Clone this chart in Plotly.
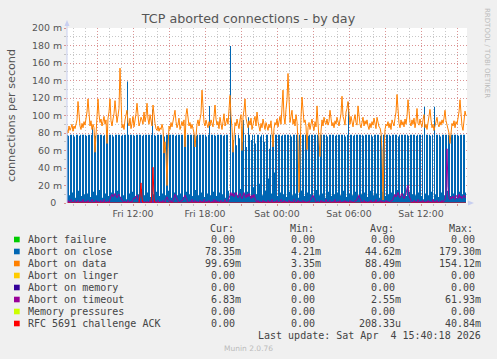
import plotly.graph_objects as go
import pandas as pd

# ---------------- data (values in milli-connections per second) ----------------
start_time = "2026-04-03 06:30:00"
n_points = 400
times = pd.date_range(start_time, periods=n_points, freq="5min")

abort_on_close = [
    78, 77, 9, 78, 78, 12, 78, 76, 6, 78, 78, 14, 77, 78, 8, 78, 78, 10, 78, 77,
    11, 78, 78, 7, 78, 87, 13, 78, 77, 9, 78, 78, 15, 78, 78, 6, 77, 78, 11, 78,
    78, 8, 78, 78, 12, 78, 76, 10, 78, 78, 14, 78, 78, 7, 77, 78, 9, 78, 78, 4.21,
    139, 78, 11, 78, 78, 13, 78, 77, 8, 78, 78, 10, 78, 78, 16, 77, 78, 9, 78, 78,
    12, 78, 78, 7, 78, 107, 10, 78, 77, 13, 78, 78, 8, 78, 78, 11, 78, 76, 9, 78,
    78, 14, 78, 78, 6, 78, 78, 12, 77, 78, 9, 78, 78, 11, 78, 78, 7, 78, 77, 13,
    78, 78, 10, 78, 78, 8, 78, 78, 15, 77, 78, 9, 78, 78, 12, 78, 78, 7, 78, 76,
    11, 78, 111, 9, 78, 78, 13, 78, 77, 8, 78, 78, 12, 78, 78, 10, 77, 78, 6, 78,
    78, 14, 4.21, 179.3, 10, 78, 72, 12, 78, 66, 9, 78, 74, 16, 78, 70, 95, 11, 78, 64,
    13, 98, 78, 8, 72, 78, 18, 78, 68, 10, 78, 78, 22, 76, 78, 9, 78, 70, 14, 78,
    78, 28, 62, 78, 11, 78, 74, 35, 78, 78, 8, 78, 78, 12, 77, 78, 10, 78, 78, 7,
    78, 78, 13, 78, 76, 9, 78, 78, 11, 78, 78, 6, 78, 77, 14, 78, 78, 8, 78, 78,
    12, 77, 78, 10, 78, 78, 7, 78, 78, 15, 78, 77, 9, 78, 78, 11, 78, 78, 6, 78,
    76, 13, 78, 78, 8, 78, 78, 10, 77, 78, 12, 78, 78, 9, 78, 78, 14, 78, 76, 7,
    78, 115, 11, 78, 78, 9, 77, 78, 13, 78, 78, 8, 78, 78, 10, 78, 77, 12, 78, 78,
    7, 78, 78, 14, 78, 76, 9, 78, 78, 11, 78, 78, 6, 77, 78, 13, 78, 78, 8, 78,
    78, 10, 78, 77, 12, 78, 78, 9, 78, 78, 15, 76, 78, 7, 78, 78, 11, 78, 78, 8,
    78, 77, 13, 78, 78, 10, 78, 78, 9, 77, 78, 12, 78, 78, 8, 78, 4.21, 110, 11, 78,
    78, 9, 78, 77, 13, 78, 4.21, 110, 10, 78, 78, 7, 78, 76, 12, 78, 78, 9, 78, 78,
    14, 78, 77, 8, 78, 78, 11, 78, 78, 6, 78, 77, 13, 78, 78, 10, 78, 78, 12, 78.35,
]

abort_on_data = [
    84, 80, 88, 83, 86, 90, 82, 88, 85, 92, 95, 116, 97, 88, 84, 91, 86, 93, 89, 97,
    104, 119, 96, 88, 94, 84, 90, 86, 58, 78, 85, 119, 101, 92, 96, 88, 93, 99, 90, 95,
    68, 97, 104, 119, 94, 88, 96, 102, 117, 99, 92, 100, 108, 154.12, 112, 86, 90, 84, 95, 103,
    106, 92, 88, 97, 85, 91, 99, 87, 94, 102, 114, 96, 88, 92, 98, 95, 90, 104, 93, 99,
    114, 96, 90, 101, 94, 88, 112, 97, 91, 85, 83, 88, 82, 86, 84, 90, 85, 57, 70, 55,
    20, 62, 88, 84, 92, 87, 95, 99, 106, 93, 86, 90, 97, 84, 89, 93, 88, 95, 64, 101,
    108, 94, 88, 92, 85, 90, 84, 80, 64, 82, 90, 95, 88, 96, 102, 129, 104, 92, 88, 95,
    90, 86, 93, 88, 95, 91, 87, 99, 112, 96, 89, 93, 85, 98, 90, 84, 93, 102, 88, 94,
    97, 90, 104, 123, 99, 86, 58, 84, 92, 88, 96, 90, 85, 95, 101, 60, 98, 106, 119, 97,
    92, 86, 94, 89, 97, 84, 90, 95, 99, 88, 104, 93, 87, 82, 91, 86, 96, 89, 84, 92,
    88, 83, 90, 86, 94, 81, 64, 85, 92, 89, 96, 87, 92, 99, 90, 105, 129, 98, 90, 107,
    118, 148, 104, 92, 99, 106, 90, 96, 88, 101, 93, 70, 12, 74, 98, 121, 103, 92, 95, 88,
    61, 86, 92, 84, 90, 96, 88, 83, 93, 87, 111, 94, 78, 53, 82, 95, 88, 98, 92, 90,
    96, 89, 93, 106, 97, 88, 92, 86, 94, 90, 98, 93, 88, 95, 102, 122, 99, 95, 89, 104,
    108, 116, 96, 90, 99, 93, 87, 95, 101, 92, 89, 111, 96, 90, 86, 93, 98, 88, 94, 90,
    95, 88, 84, 91, 86, 93, 89, 97, 90, 85, 98, 92, 87, 86, 80, 60, 3.35, 58, 84, 90,
    88, 93, 86, 91, 84, 95, 90, 88, 97, 104, 124, 99, 91, 86, 95, 89, 93, 87, 96, 90,
    99, 118, 101, 92, 88, 95, 90, 97, 86, 93, 108, 91, 89, 96, 90, 87, 95, 101, 86, 90,
    84, 92, 96, 107, 95, 86, 90, 83, 88, 94, 98, 90, 87, 93, 89, 95, 91, 97, 106, 94,
    90, 86, 80, 68, 84, 91, 88, 94, 86, 93, 90, 97, 104, 118, 101, 88, 83, 92, 105, 99.69,
]

abort_on_timeout = [
    1, 3, 0, 2, 4, 1, 0, 2, 3, 1, 0, 3, 1, 0, 2, 1, 4, 0, 1, 2,
    0, 3, 1, 0, 2, 4, 1, 0, 1, 3, 0, 2, 1, 0, 3, 1, 0, 4, 2, 0,
    1, 2, 0, 5, 8, 10, 7, 9, 11, 8, 6, 9, 10, 7, 5, 3, 1, 0, 2, 1,
    0, 3, 1, 0, 2, 1, 4, 6, 5, 7, 9, 4, 2, 0, 1, 3, 0, 2, 1, 0,
    2, 1, 0, 3, 1, 2, 0, 4, 1, 0, 2, 3, 0, 1, 2, 0, 3, 1, 0, 5,
    7, 4, 2, 1, 3, 0, 2, 6, 10, 7, 4, 2, 0, 1, 3, 2, 5, 8, 9, 6,
    3, 1, 0, 2, 1, 4, 0, 1, 3, 0, 2, 1, 0, 3, 1, 2, 0, 4, 1, 0,
    2, 1, 3, 0, 1, 2, 0, 4, 1, 3, 0, 2, 1, 0, 3, 2, 0, 1, 4, 1,
    0, 2, 5, 9, 12, 8, 11, 7, 10, 12, 9, 6, 8, 11, 7, 5, 9, 12, 8, 6,
    10, 7, 11, 8, 5, 9, 6, 10, 4, 2, 1, 3, 0, 2, 1, 0, 3, 1, 2, 0,
    1, 3, 0, 2, 1, 4, 0, 1, 2, 0, 3, 1, 0, 2, 4, 1, 0, 3, 1, 2,
    0, 1, 3, 0, 2, 1, 0, 4, 2, 1, 0, 3, 1, 2, 0, 1, 3, 0, 2, 1,
    0, 2, 1, 3, 5, 7, 9, 6, 3, 1, 0, 2, 1, 0, 3, 1, 2, 0, 1, 4,
    1, 0, 2, 3, 1, 0, 2, 1, 4, 0, 1, 2, 0, 3, 1, 0, 2, 1, 3, 0,
    2, 1, 0, 3, 1, 2, 0, 1, 3, 2, 4, 6, 9, 5, 2, 0, 1, 3, 0, 2,
    1, 0, 2, 1, 3, 0, 1, 2, 0, 4, 1, 0, 2, 1, 3, 0, 2, 1, 0, 3,
    1, 2, 0, 1, 3, 2, 5, 8, 10, 7, 9, 12, 8, 6, 9, 11, 7, 5, 8, 10,
    17, 20, 9, 4, 2, 1, 0, 3, 1, 2, 0, 4, 1, 0, 2, 1, 3, 0, 1, 2,
    0, 3, 1, 2, 0, 1, 4, 0, 2, 1, 3, 0, 1, 2, 0, 3, 1, 2, 4, 12,
    61.93, 18, 6, 4, 7, 5, 8, 6, 4, 9, 7, 5, 10, 6, 8, 5, 7, 9, 6, 6.83,
]

rfc5691_challenge_ack = [
    0, 0, 0, 0, 0, 0, 0, 0, 0, 0, 0, 0, 0, 0, 0, 0, 0, 0, 0, 0,
    0, 0, 0, 0, 0, 0, 0, 0, 0, 0, 0, 0, 0, 0, 0, 0, 0, 0, 0, 0,
    0, 0, 0, 0, 0, 0, 0, 0, 0, 0, 0, 0, 0, 0, 0, 0, 0, 0, 0, 0,
    0, 0, 0, 0, 0, 0, 0, 0, 0, 0, 0, 0, 0, 8, 23, 6, 0, 0, 0, 0,
    0, 0, 0, 0, 0, 12, 40.84, 5, 0, 0, 0, 0, 0, 0, 0, 0, 0, 0, 0, 0,
    0, 0, 0, 0, 0, 0, 0, 0, 0, 0, 0, 0, 0, 0, 0, 0, 0, 0, 0, 0,
    0, 0, 0, 0, 0, 0, 0, 0, 0, 0, 0, 0, 0, 0, 0, 0, 0, 0, 0, 0,
    0, 0, 0, 0, 0, 0, 0, 0, 0, 0, 0, 0, 0, 0, 0, 0, 0, 0, 0, 0,
    0, 0, 0, 0, 0, 0, 0, 0, 0, 0, 0, 0, 0, 0, 0, 0, 0, 0, 0, 0,
    0, 0, 0, 0, 0, 0, 0, 0, 0, 0, 0, 0, 0, 0, 0, 0, 0, 0, 0, 0,
    0, 0, 0, 0, 0, 0, 0, 0, 0, 0, 0, 0, 0, 0, 0, 0, 0, 0, 0, 0,
    0, 0, 0, 0, 0, 0, 0, 0, 0, 0, 0, 0, 0, 0, 0, 0, 0, 0, 0, 0,
    0, 0, 0, 0, 0, 0, 0, 0, 0, 0, 0, 0, 0, 0, 0, 0, 0, 0, 0, 0,
    0, 0, 0, 0, 0, 0, 0, 0, 0, 0, 0, 0, 0, 0, 0, 0, 0, 0, 0, 0,
    0, 0, 0, 0, 0, 0, 0, 0, 0, 0, 0, 0, 0, 0, 0, 0, 0, 0, 0, 0,
    0, 0, 0, 0, 0, 0, 0, 0, 0, 0, 0, 0, 0, 0, 0, 0, 0, 0, 0, 0,
    0, 0, 0, 0, 0, 0, 0, 0, 0, 0, 0, 0, 0, 0, 0, 0, 0, 0, 0, 0,
    0, 0, 0, 0, 0, 0, 0, 0, 0, 0, 0, 0, 0, 0, 0, 0, 0, 0, 0, 0,
    0, 0, 0, 0, 0, 0, 0, 0, 0, 0, 0, 0, 0, 0, 0, 0, 0, 0, 0, 0,
    0, 0, 0, 0, 0, 0, 0, 0, 0, 0, 0, 0, 0, 0, 0, 0, 0, 0, 0, 0,
]

legend_names = ["Abort failure", "Abort on close", "Abort on data", "Abort on linger",
                "Abort on memory", "Abort on timeout", "Memory pressures",
                "RFC 5691 challenge ACK"]
legend_colors = ["#00CC00", "#0066B3", "#FF8000", "#FFCC00",
                 "#330099", "#990099", "#CCFF00", "#FF0000"]
cur_vals = ["0.00", "78.35m", "99.69m", "0.00", "0.00", "6.83m", "0.00", "0.00"]
min_vals = ["0.00", "4.21m", "3.35m", "0.00", "0.00", "0.00", "0.00", "0.00"]
avg_vals = ["0.00", "44.62m", "88.49m", "0.00", "0.00", "2.55m", "0.00", "208.33u"]
max_vals = ["0.00", "179.30m", "154.12m", "0.00", "0.00", "61.93m", "0.00", "40.84m"]

y_tick_vals = [0, 20, 40, 60, 80, 100, 120, 140, 160, 180, 200]
y_tick_text = ["0\u00a0\u00a0", "20 m", "40 m", "60 m", "80 m", "100 m", "120 m",
               "140 m", "160 m", "180 m", "200 m"]
x_tick_times = ["2026-04-03 09:00", "2026-04-03 12:00", "2026-04-03 15:00",
                "2026-04-03 18:00", "2026-04-03 21:00", "2026-04-04 00:00",
                "2026-04-04 03:00", "2026-04-04 06:00", "2026-04-04 09:00",
                "2026-04-04 12:00", "2026-04-04 15:00"]
x_tick_text = ["", "Fri 12:00", "", "Fri 18:00", "", "Sat 00:00", "",
               "Sat 06:00", "", "Sat 12:00", ""]

# ---------------- layout geometry ----------------
W, H = 497, 359
PL, PR, PT, PB = 67, 467, 28, 203  # plot box in pixels


def px(x):
    return (x - PL) / (PR - PL)


def py(y):
    return (PB - y) / (PB - PT)


fig = go.Figure()

fig.add_trace(go.Scatter(x=times, y=abort_on_close, mode="lines", line=dict(width=0, shape="hv"),
                         fill="tozeroy", fillcolor="#0066B3", hoverinfo="skip"))
fig.add_trace(go.Scatter(x=times, y=abort_on_data, mode="lines",
                         line=dict(color="#FF8000", width=1), hoverinfo="skip"))
fig.add_trace(go.Scatter(x=times, y=abort_on_timeout, mode="lines",
                         line=dict(color="#990099", width=1), hoverinfo="skip"))
fig.add_trace(go.Scatter(x=times, y=rfc5691_challenge_ack, mode="lines",
                         line=dict(color="#FF0000", width=1), hoverinfo="skip"))

major_grid = "rgba(225,130,130,0.75)"
minor_grid = "rgba(170,170,170,0.65)"

fig.update_layout(
    width=W, height=H,
    margin=dict(l=PL, r=W - PR, t=PT, b=H - PB),
    paper_bgcolor="#F0F0F0", plot_bgcolor="#FFFFFF",
    showlegend=False,
    font=dict(family="DejaVu Sans", color="#555555"),
    title=dict(text="TCP aborted connections - by day", x=0.5, xanchor="center",
               y=1 - 19 / H, yanchor="middle", font=dict(size=12.7, color="#555555")),
    xaxis=dict(
        type="date", range=["2026-04-03 06:30:00", "2026-04-04 15:50:00"],
        tickmode="array", tickvals=x_tick_times, ticktext=x_tick_text,
        showgrid=True, gridcolor=major_grid, griddash="1px,2px", gridwidth=1,
        ticks="outside", ticklen=2, tickcolor=major_grid,
        tickfont=dict(size=9.4, color="#555555"),
        showline=False, zeroline=False, fixedrange=True,
        minor=dict(dtick=3600000, tick0="2026-04-03 00:00", showgrid=True,
                   gridcolor=minor_grid, griddash="1px,2px", ticks="outside",
                   ticklen=2, tickcolor=minor_grid),
    ),
    yaxis=dict(
        range=[0, 200], tickmode="array", tickvals=y_tick_vals, ticktext=y_tick_text,
        showgrid=True, gridcolor=major_grid, griddash="1px,2px", gridwidth=1,
        ticks="outside", ticklen=2, tickcolor=major_grid,
        tickfont=dict(size=9.4, color="#555555"),
        showline=False, zeroline=False, fixedrange=True,
        minor=dict(dtick=10, tick0=0, showgrid=True, gridcolor=minor_grid,
                   griddash="1px,2px", ticks="outside", ticklen=2, tickcolor=minor_grid),
    ),
)

axis_col = "#C8CFF0"
shapes = [
    dict(type="line", xref="paper", yref="paper", x0=px(67), x1=px(67), y0=py(203), y1=py(24),
         line=dict(color=axis_col, width=1)),
    dict(type="path", xref="paper", yref="paper",
         path=f"M {px(64.5)} {py(26)} L {px(69.5)} {py(26)} L {px(67)} {py(20)} Z",
         fillcolor=axis_col, line=dict(width=0)),
    dict(type="path", xref="paper", yref="paper",
         path=f"M {px(468)} {py(200.5)} L {px(468)} {py(205.5)} L {px(474)} {py(203)} Z",
         fillcolor=axis_col, line=dict(width=0)),
]

annotations = [
    dict(text="connections per second", x=px(11), y=py(115), xref="paper", yref="paper",
         textangle=-90, showarrow=False, xanchor="center", yanchor="middle",
         font=dict(size=11.2, color="#555555")),
    dict(text="RRDTOOL / TOBI OETIKER", x=px(487), y=py(53), xref="paper", yref="paper",
         textangle=90, showarrow=False, xanchor="center", yanchor="middle",
         font=dict(size=7, color="#BBBBBB")),
    dict(text="Munin 2.0.76", x=px(248), y=py(348), xref="paper", yref="paper",
         showarrow=False, xanchor="center", yanchor="middle",
         font=dict(size=7.5, color="#BBBBBB")),
]

mono = dict(family="DejaVu Sans Mono", size=10, color="#444444")
for hdr, hx in zip(["Cur:", "Min:", "Avg:", "Max:"], [207.7, 287.7, 367.7, 446.7]):
    annotations.append(dict(text=hdr, x=px(hx), y=py(228), xref="paper", yref="paper",
                            showarrow=False, xanchor="left", yanchor="middle", font=mono))

col_edges = [243.3, 322.7, 402.7, 482.5]
for i, name in enumerate(legend_names):
    ry = 239.5 + 12 * i
    shapes.append(dict(type="rect", xref="paper", yref="paper",
                       x0=px(14), x1=px(19.7), y0=py(ry - 2.8), y1=py(ry + 2.8),
                       fillcolor=legend_colors[i], line=dict(width=0)))
    annotations.append(dict(text=name, x=px(26), y=py(ry), xref="paper", yref="paper",
                            showarrow=False, xanchor="left", yanchor="middle", font=mono))
    for vals, edge in zip([cur_vals, min_vals, avg_vals, max_vals], col_edges):
        v = vals[i]
        e = edge if v[-1].isalpha() else edge - 6
        annotations.append(dict(text=v, x=px(e), y=py(ry), xref="paper", yref="paper",
                                showarrow=False, xanchor="right", yanchor="middle", font=mono))

annotations.append(dict(text="Last update: Sat Apr\u00a0\u00a04 15:40:18 2026", x=px(482.5), y=py(335),
                        xref="paper", yref="paper", showarrow=False, xanchor="right",
                        yanchor="middle", font=mono))

fig.update_layout(shapes=shapes, annotations=annotations)

fig.write_html("out.html", config={"displayModeBar": False},
               post_script="document.body.style.margin='0';document.body.style.background='#F0F0F0';")
